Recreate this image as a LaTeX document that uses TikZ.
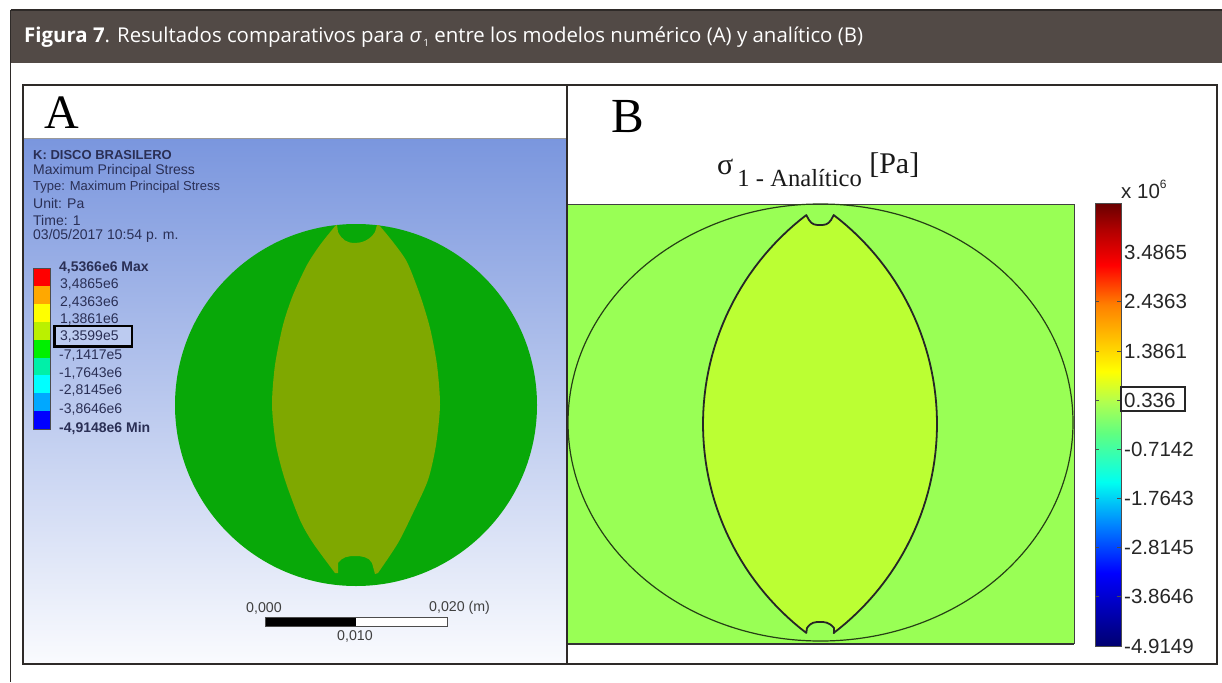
\documentclass[tikz,border=0pt]{standalone}
\usepackage{fontspec}
\setmainfont{Liberation Sans}
\newfontfamily\headfont{Open Sans}
\newfontfamily\serifdisp{Liberation Serif}
\definecolor{headbg}{HTML}{524A46}
\definecolor{framec}{HTML}{2E2A28}
\definecolor{discgreen}{HTML}{08A808}
\definecolor{discolive}{HTML}{7FA800}
\definecolor{plotgreen}{HTML}{99FF55}
\definecolor{lensgreen}{HTML}{BBFF33}
\definecolor{ansystext}{HTML}{2A2F55}
\definecolor{skytop}{HTML}{7A96DE}
\definecolor{skymid}{HTML}{BCCBF0}
\definecolor{skybot}{HTML}{FAFBFE}
\definecolor{ja}{HTML}{000070}
\definecolor{jb}{HTML}{0000FF}
\definecolor{jc}{HTML}{0080FF}
\definecolor{jd}{HTML}{00FFF0}
\definecolor{je}{HTML}{60FF80}
\definecolor{jf}{HTML}{B0FF50}
\definecolor{jg}{HTML}{FFFF00}
\definecolor{jh}{HTML}{FF8000}
\definecolor{ji}{HTML}{FF0000}
\definecolor{jj}{HTML}{B00000}
\definecolor{jk}{HTML}{680000}
\pgfdeclareverticalshading{jetbar}{100bp}{
 color(0bp)=(ja);
 color(25bp)=(ja);
 color(33.25bp)=(jb);
 color(38.5bp)=(jc);
 color(43.5bp)=(jd);
 color(49bp)=(je);
 color(52.5bp)=(jf);
 color(56bp)=(jg);
 color(63.5bp)=(jh);
 color(68bp)=(ji);
 color(72bp)=(jj);
 color(75bp)=(jk);
 color(100bp)=(jk)}
\begin{document}
\begin{tikzpicture}[x=1pt,y=-1pt,
  legtext/.style={anchor=west,inner sep=0pt,font=\fontsize{14}{15}\selectfont,text=ansystext},
  legbold/.style={legtext,font=\fontsize{14}{15}\selectfont\bfseries},
  barlabel/.style={anchor=west,inner sep=0pt,font=\fontsize{20.5}{22}\selectfont,text=black!85},
  scaletext/.style={inner sep=0pt,font=\fontsize{14.2}{15}\selectfont,text=black!75},
  panelline/.style={draw=framec,line width=1.2pt}]
\useasboundingbox (0,0) rectangle (1222,682);
\fill[white] (0,0) rectangle (1222,682);
% header and outer frame
\fill[headbg] (10,10) rectangle (1222,63);
\draw[framec,line width=1.4pt] (10.5,10) -- (1222,10);
\draw[framec,line width=1.4pt] (10.5,10) -- (10.5,682);
\node[anchor=west,inner sep=0pt,text=white,font=\headfont\fontsize{20.4}{22}\selectfont] (title) at (24,37)
  {\textbf{Figura 7}. Resultados comparativos para \textit{σ}\raisebox{-4pt}{\fontsize{10}{10}\selectfont\,1} entre los modelos numérico (A) y analítico (B)};
% panel A background
\shade[top color=skytop,middle color=skymid,bottom color=skybot] (23,138) rectangle (567,664);
\fill[white] (23,85) rectangle (1217,138);
\draw[black!40,line width=0.6pt] (23,138) -- (567,138);
% disc
\fill[discgreen] (356,405) circle[radius=181];
\fill[discolive] plot[smooth,tension=0.45] coordinates {(336,225) (320,245) (307,265) (293,295) (283,325) (275,365) (272,405) (276,445) (285,480) (300,520) (313,543) (335,573)}
  -- (338,573) -- (338,563) .. controls (342,557) and (348,556) .. (355,556) .. controls (362,556) and (369,557) .. (372,563) -- (375,574) -- (378,573)
  -- plot[smooth,tension=0.45] coordinates {(378,573) (398,543) (413,513) (428,480) (436,445) (440,405) (437,365) (430,328) (420,295) (407,262) (393,242) (379,225)}
  -- (377,225) -- (375,232) .. controls (370,240) and (362,243) .. (355,243) .. controls (347,243) and (342,240) .. (338,232) -- (337,225) -- cycle;
% legend
\foreach \i/\c in {0/FF0000,1/FFA800,2/FFFF00,3/BBF000,4/00F000,5/00F0A8,6/00FFFF,7/00A8FF,8/0000FF}{
  \definecolor{cellc}{HTML}{\c}
  \fill[cellc] (33,268+17.9*\i) rectangle (50,268+17.9*\i+17.9);
}
\draw[black!70,line width=0.8pt] (33,268) rectangle (50,429);
\node[legbold,font=\fontsize{13}{14}\selectfont\bfseries] (la) at (33,155) {K: DISCO BRASILERO};
\node[legtext] (lb) at (33,171) {Maximum Principal Stress};
\node[legtext,font=\fontsize{13}{14}\selectfont] (lc) at (33,187) {Type: Maximum Principal Stress};
\node[legtext] (ld) at (33,203) {Unit: Pa};
\node[legtext] (le) at (33,220) {Time: 1};
\node[legtext] (lf) at (33,236) {03/05/2017 10:54 p. m.};
\node[legbold] (v0) at (59,268) {4,5366e6 Max};
\node[legtext] (v1) at (60,285) {3,4865e6};
\node[legtext] (v2) at (60,303) {2,4363e6};
\node[legtext] (v3) at (60,320) {1,3861e6};
\fill[skymid] (55,326) rectangle (132,347);
\node[legtext] (v4) at (60,337) {3,3599e5};
\node[legtext] (v5) at (59,355.5) {-7,1417e5};
\node[legtext] (v6) at (59,374) {-1,7643e6};
\node[legtext] (v7) at (59,391) {-2,8145e6};
\node[legtext] (v8) at (59,410) {-3,8646e6};
\node[legbold] (v9) at (59,429) {-4,9148e6 Min};
\draw[black,line width=2.2pt] (54.5,326) rectangle (132,346.5);
% scale bar
\fill[black] (265,617) rectangle (356,626);
\fill[white] (356,617) rectangle (447,626);
\draw[black!70,line width=0.8pt] (265,617) rectangle (447,626);
\node[scaletext] (s0) at (264,608) {0,000};
\node[scaletext,anchor=west] (s1) at (429,608) {0,020 (m)};
\node[scaletext] (s2) at (355,636) {0,010};
% panel B
\fill[white] (568,138) rectangle (1217,664);
\fill[plotgreen] (568,204) rectangle (1074,644);
\draw[black!75,line width=1pt] (568,204) -- (1074,204) -- (1074,644);
\draw[black!80,line width=1.6pt] (568,644) -- (1074,644);
\draw[black!75!plotgreen,line width=1.2pt] (820.5,422.5) ellipse[x radius=252.5,y radius=218.5];
\filldraw[fill=lensgreen,draw=black!85,line width=1.8pt,line join=round]
  plot[domain=-52.6:52.6,samples=60,variable=\t] ({966-263*cos(\t)},{424+263*sin(\t)})
  -- (807,628) .. controls (811,622) and (815,622) .. (820,622) .. controls (825,622) and (829,622) .. (834,628) -- (834,633)
  -- plot[domain=52.6:-52.6,samples=60,variable=\t] ({674+263*cos(\t)},{424+263*sin(\t)})
  -- (831,220) .. controls (828,225) and (824,225) .. (820,225) .. controls (816,225) and (812,225) .. (809,220) -- cycle;
% colour bar
\shade[shading=jetbar] (1095,203) rectangle (1121,646);
\draw[black!70,line width=0.8pt] (1095,203) rectangle (1121,646);
\foreach \y in {301,351,400,449,498,547,596}{
  \draw[black!70,line width=0.7pt] (1095,\y) -- (1099,\y) (1117,\y) -- (1121,\y);
}
\node[barlabel] (b1) at (1124,252) {3.4865};
\node[barlabel] (b2) at (1124,301) {2.4363};
\node[barlabel] (b3) at (1124,351) {1.3861};
\node[barlabel] (b4) at (1124,400) {0.336};
\node[barlabel] (b5) at (1124,449) {-0.7142};
\node[barlabel] (b6) at (1124,498) {-1.7643};
\node[barlabel] (b7) at (1124,547) {-2.8145};
\node[barlabel] (b8) at (1124,596) {-3.8646};
\node[barlabel] (b9) at (1124,646) {-4.9149};
\draw[black!85,line width=1.5pt] (1121,387) rectangle (1185,411);
\node[anchor=west,inner sep=0pt,font=\fontsize{20.5}{22}\selectfont,text=black!85] (bx) at (1121,189) {x 10\raisebox{10pt}{\fontsize{12}{12}\selectfont 6}};
% panel letters and title
\node[inner sep=0pt,font=\serifdisp\fontsize{48}{50}\selectfont,text=black] (A) at (62,112.5) {A};
\node[inner sep=0pt,font=\serifdisp\fontsize{49}{50}\selectfont,text=black] (B) at (628,116.5) {B};
\node[anchor=west,inner sep=0pt,font=\serifdisp\fontsize{30}{30}\selectfont,text=black!90] (sig) at (717,170)
 {σ\raisebox{-12pt}{\fontsize{24.6}{25}\selectfont\,1 - Analítico} \raisebox{1pt}{[Pa]}};
% panel frame
\draw[panelline] (23,85) rectangle (1217,664);
\draw[panelline] (567,85) -- (567,664);
\end{tikzpicture}
\end{document}
